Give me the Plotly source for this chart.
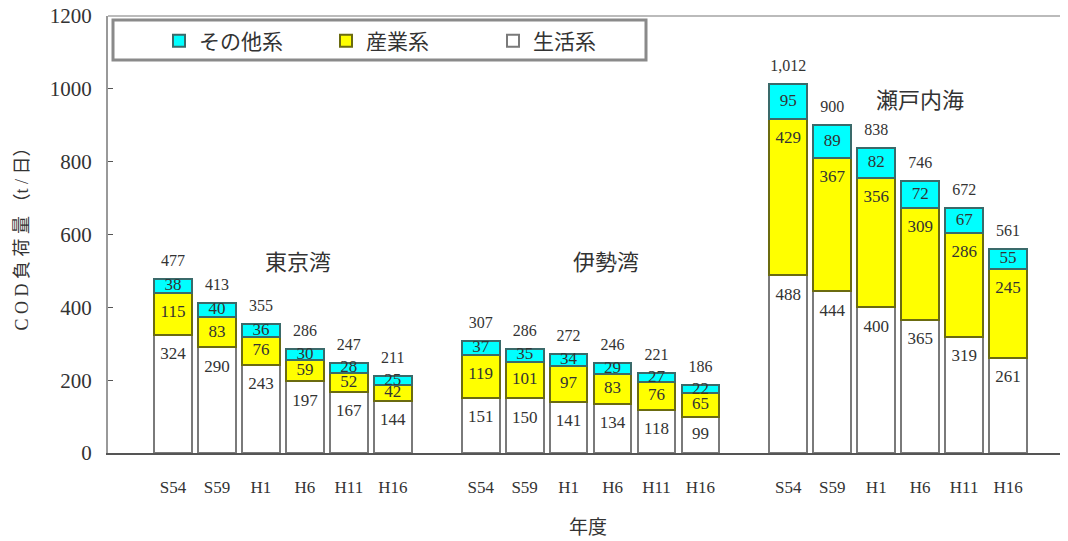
import plotly.graph_objects as go

# ---- data -------------------------------------------------------------
years = ["S54", "S59", "H1", "H6", "H11", "H16"]
regions = ["東京湾", "伊勢湾", "瀬戸内海"]
series_names = ["生活系", "産業系", "その他系"]

tokyo_life = [324, 290, 243, 197, 167, 144]
tokyo_industry = [115, 83, 76, 59, 52, 42]
tokyo_other = [38, 40, 36, 30, 28, 25]

ise_life = [151, 150, 141, 134, 118, 99]
ise_industry = [119, 101, 97, 83, 76, 65]
ise_other = [37, 35, 34, 29, 27, 22]

seto_life = [488, 444, 400, 365, 319, 261]
seto_industry = [429, 367, 356, 309, 286, 245]
seto_other = [95, 89, 82, 72, 67, 55]

y_ticks = [0, 200, 400, 600, 800, 1000, 1200]

# ---- assemble ---------------------------------------------------------
groups = [
    (tokyo_life, tokyo_industry, tokyo_other),
    (ise_life, ise_industry, ise_other),
    (seto_life, seto_industry, seto_other),
]
x, labels, life, ind, oth = [], [], [], [], []
for g, (l, i_, o) in enumerate(groups):
    for k, yr in enumerate(years):
        x.append(g * (len(years) + 1) + k)
        labels.append(yr)
        life.append(l[k])
        ind.append(i_[k])
        oth.append(o[k])
total = [a + b + c for a, b, c in zip(life, ind, oth)]

OFF = 8  # page body margin
W, H = 1060, 533
M_L, M_R, M_T, M_B = 108 - OFF, 0, 16 - OFF, 88
plot_h = H - M_T - M_B
plot_w = W - M_L - M_R
Y_MAX = 1200
u = Y_MAX / plot_h  # data units per pixel
AXIS_Y = H - M_B + OFF  # page y of the x axis

FONT = "Liberation Serif, Noto Sans CJK JP, serif"
TXT = "#333333"

fig = go.Figure()

styles = [
    (life, "#FFFFFF", "#7a7a7a"),
    (ind, "#FFFF00", "#6b6b10"),
    (oth, "#00FFFF", "#3a6a6a"),
]
for name, (vals, fill, line) in zip(series_names, styles):
    fig.add_trace(go.Bar(
        x=x, y=vals, name=name, width=0.86,
        marker=dict(color=fill, line=dict(color=line, width=2)),
        hoverinfo="skip",
    ))

# segment labels
def seg_label_y(bottom, top, center_only=False):
    mid = (bottom + top) / 2
    if center_only:
        return mid
    return max(mid, top - 20 * u)

y_life = [seg_label_y(0, a) for a in life]
y_ind = [seg_label_y(a, a + b) for a, b in zip(life, ind)]
y_oth = [seg_label_y(a + b, a + b + c, True) for a, b, c in zip(life, ind, oth)]
y_tot = [t + 17 * u for t in total]

for ys, vals in [(y_life, life), (y_ind, ind), (y_oth, oth)]:
    fig.add_trace(go.Scatter(
        x=x, y=ys, mode="text", text=[str(v) for v in vals],
        textposition="middle center",
        textfont=dict(family=FONT, size=17, color=TXT),
        showlegend=False, hoverinfo="skip", cliponaxis=False,
    ))
fig.add_trace(go.Scatter(
    x=x, y=y_tot, mode="text", text=[f"{v:,}" for v in total],
    textposition="middle center",
    textfont=dict(family=FONT, size=16, color=TXT),
    showlegend=False, hoverinfo="skip", cliponaxis=False,
))

# region labels (page pixel y positions)
region_pos = [(2.85, 262), (9.85, 262), (17.0, 100)]
for name, (rx, ry_px) in zip(regions, region_pos):
    fig.add_annotation(
        x=rx, y=(AXIS_Y - ry_px) * u, xref="x", yref="y",
        text=name, showarrow=False,
        font=dict(family=FONT, size=22, color=TXT),
    )

def px_x(px):
    return (px - OFF - M_L) / plot_w

def px_y(py):
    return (AXIS_Y - py) / plot_h

# legend box
fig.add_shape(
    type="rect", xref="paper", yref="paper",
    x0=px_x(113), x1=px_x(646), y0=px_y(60), y1=px_y(20),
    line=dict(color="#8a8a8a", width=3), fillcolor="white", layer="above",
)
# top frame line
fig.add_shape(
    type="line", xref="paper", yref="paper", x0=0, x1=1, y0=1, y1=1,
    line=dict(color="#bbbbbb", width=2),
)

x_min = -1.48
x_max = x_min + plot_w / 43.95

fig.update_layout(
    width=W, height=H,
    margin=dict(l=M_L, r=M_R, t=M_T, b=M_B, autoexpand=False),
    barmode="stack",
    plot_bgcolor="white", paper_bgcolor="white",
    font=dict(family=FONT, color=TXT),
    showlegend=True,
    legend=dict(
        orientation="h", traceorder="reversed",
        x=px_x(159), y=px_y(41),
        xanchor="left", yanchor="middle",
        bgcolor="rgba(0,0,0,0)", borderwidth=0,
        entrywidth=122, entrywidthmode="pixels",
        font=dict(family=FONT, size=21, color=TXT),
    ),
    xaxis=dict(
        range=[x_min, x_max], tickmode="array", tickvals=x, ticktext=labels,
        showgrid=False, zeroline=False, showline=True,
        linecolor="#555555", linewidth=2, ticks="",
        tickfont=dict(family=FONT, size=17, color=TXT),
        ticklabelstandoff=18,
        title=dict(text="年度", font=dict(family=FONT, size=19, color=TXT), standoff=24),
    ),
    yaxis=dict(
        range=[0, Y_MAX], tickmode="array", tickvals=y_ticks,
        showgrid=False, zeroline=False, showline=True,
        linecolor="#999999", linewidth=2,
        ticks="inside", ticklen=5, tickcolor="#555555", tickwidth=1,
        tickfont=dict(family=FONT, size=21, color=TXT),
        ticklabelstandoff=10, ticklabeloverflow="allow",
        title=dict(text="C O D 負 荷 量 （t / 日）",
                   font=dict(family=FONT, size=18, color=TXT), standoff=16),
    ),
)

fig.write_html("out.html")
